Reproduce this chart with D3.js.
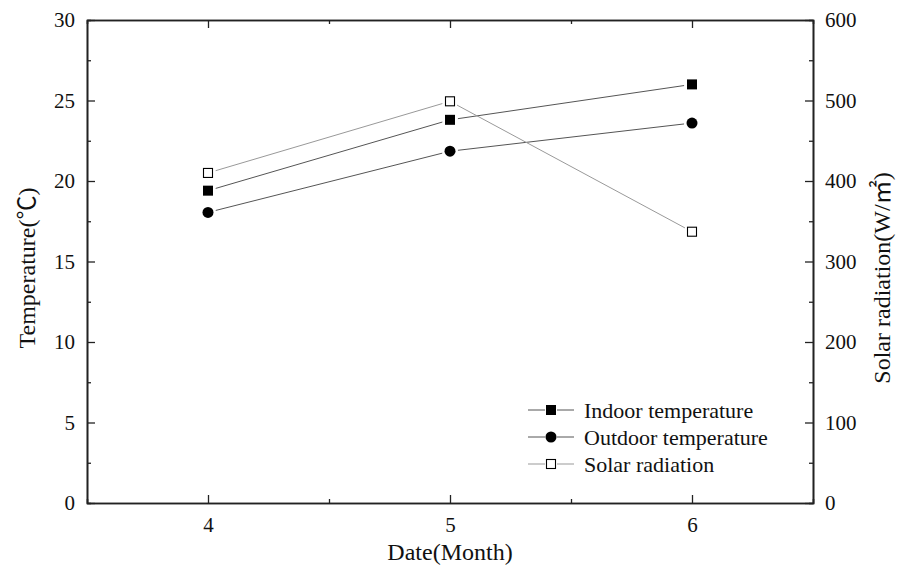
<!DOCTYPE html>
<html lang="en">
<head>
<meta charset="UTF-8">
<title>Temperature and solar radiation</title>
<style>
  body { margin: 0; background: #fff; }
  svg { font-family: "Liberation Serif", "Times New Roman", serif; }
  .axis path, .axis line { stroke: #222; }
  .cjk { font-family: "Noto Sans CJK SC", sans-serif; }
</style>
</head>
<body>
<svg width="898" height="573"></svg>
<script src="https://cdn.jsdelivr.net/npm/d3@7/dist/d3.min.js"></script>
<script>
const months = [4, 5, 6];
const indoorTemp = [19.4, 23.8, 26.0];
const outdoorTemp = [18.05, 21.85, 23.6];
const solarRadiation = [410, 499, 337];
const tempTicks = [0, 5, 10, 15, 20, 25, 30];
const solarTicks = [0, 100, 200, 300, 400, 500, 600];

const svg = d3.select('svg');
const margin = { left: 87, right: 85, top: 20, bottom: 70 };
const width = 898 - margin.left - margin.right;
const height = 573 - margin.top - margin.bottom;

const chart = svg.append('g')
    .attr('transform', `translate(${margin.left}, ${margin.top})`);

const xScale = d3.scaleLinear().domain([3.5, 6.5]).range([0, width]);
const yTemp = d3.scaleLinear().domain([0, 30]).range([height, 0]);
const ySolar = d3.scaleLinear().domain([0, 600]).range([height, 0]);

// minor ticks first
const minor = (axis, vals) => axis.tickValues(vals).tickSize(-4).tickFormat('');
chart.append('g').attr('class', 'axis').attr('transform', `translate(0, ${height})`)
    .call(minor(d3.axisBottom(xScale), [4.5, 5.5]));
chart.append('g').attr('class', 'axis')
    .call(minor(d3.axisTop(xScale), [4.5, 5.5]));
chart.append('g').attr('class', 'axis')
    .call(minor(d3.axisLeft(yTemp), d3.range(2.5, 30, 5)));
chart.append('g').attr('class', 'axis').attr('transform', `translate(${width}, 0)`)
    .call(minor(d3.axisRight(ySolar), d3.range(50, 600, 100)));

chart.append('g').attr('class', 'axis')
    .attr('transform', `translate(0, ${height})`)
    .call(d3.axisBottom(xScale).tickValues(months).tickSize(-8).tickSizeOuter(0).tickPadding(14).tickFormat(d3.format('d')));
chart.append('g').attr('class', 'axis')
    .call(d3.axisTop(xScale).tickValues(months).tickSize(-8).tickSizeOuter(0).tickFormat(''));
chart.append('g').attr('class', 'axis')
    .call(d3.axisLeft(yTemp).tickValues(tempTicks).tickSize(-8).tickSizeOuter(0).tickPadding(12));
chart.append('g').attr('class', 'axis').attr('transform', `translate(${width}, 0)`)
    .call(d3.axisRight(ySolar).tickValues(solarTicks).tickSize(-8).tickSizeOuter(0).tickPadding(12));

chart.selectAll('.axis').attr('font-family', null);
chart.selectAll('.axis text')
    .style('font-family', 'Liberation Serif')
    .style('font-size', '21px')
    .attr('fill', '#111');
chart.selectAll('.axis path').attr('stroke-width', 1.6);
chart.selectAll('.axis line').attr('stroke-width', 1.3);

const series = [
  { name: 'Indoor temperature', values: indoorTemp, y: yTemp, marker: 'square', line: '#555' },
  { name: 'Outdoor temperature', values: outdoorTemp, y: yTemp, marker: 'circle', line: '#555' },
  { name: 'Solar radiation', values: solarRadiation, y: ySolar, marker: 'open', line: '#999' }
];

function drawMarker(g, type, x, y) {
  if (type === 'circle') {
    g.append('circle').attr('cx', x).attr('cy', y).attr('r', 5.5).attr('fill', '#000');
  } else if (type === 'square') {
    g.append('rect').attr('x', x - 5).attr('y', y - 5).attr('width', 10).attr('height', 10).attr('fill', '#000');
  } else {
    g.append('rect').attr('x', x - 4.5).attr('y', y - 4.5).attr('width', 9).attr('height', 9)
      .attr('fill', '#fff').attr('stroke', '#000').attr('stroke-width', 1.1);
  }
}

const gap = 8;
series.forEach(s => {
  const pts = months.map((m, i) => [xScale(m), s.y(s.values[i])]);
  const g = chart.append('g');
  for (let i = 0; i < pts.length - 1; i++) {
    const [x1, y1] = pts[i], [x2, y2] = pts[i + 1];
    const len = Math.hypot(x2 - x1, y2 - y1);
    const ux = (x2 - x1) / len, uy = (y2 - y1) / len;
    g.append('line')
      .attr('x1', x1 + ux * gap).attr('y1', y1 + uy * gap)
      .attr('x2', x2 - ux * gap).attr('y2', y2 - uy * gap)
      .attr('stroke', s.line).attr('stroke-width', 1);
  }
  pts.forEach(p => drawMarker(g, s.marker, p[0], p[1]));
});

// legend
const legend = chart.append('g').attr('transform', `translate(${528 - margin.left}, ${410 - margin.top})`);
series.forEach((s, i) => {
  const row = legend.append('g').attr('transform', `translate(0, ${i * 27})`);
  row.append('line').attr('x1', 0).attr('x2', 17).attr('stroke', s.line).attr('stroke-width', 1);
  row.append('line').attr('x1', 29).attr('x2', 46).attr('stroke', s.line).attr('stroke-width', 1);
  drawMarker(row, s.marker, 23, 0);
  row.append('text').attr('x', 56).attr('y', 7.5)
    .attr('font-size', 22).attr('fill', '#111').text(s.name);
});

// axis titles
svg.append('text')
    .attr('x', margin.left + width / 2).attr('y', 560)
    .attr('text-anchor', 'middle').attr('font-size', 24).attr('fill', '#111')
    .text('Date(Month)');

const leftTitle = svg.append('text')
    .attr('transform', `translate(35, 268) rotate(-90)`)
    .attr('text-anchor', 'middle').attr('font-size', 24).attr('fill', '#111');
leftTitle.append('tspan').text('Temperature(');
leftTitle.append('tspan').attr('class', 'cjk').text('℃');
leftTitle.append('tspan').text(')');

const rightTitle = svg.append('text')
    .attr('transform', `translate(890, 278) rotate(-90)`)
    .attr('text-anchor', 'middle').attr('font-size', 24).attr('fill', '#111');
rightTitle.append('tspan').text('Solar radiation(W/');
rightTitle.append('tspan').attr('class', 'cjk').text('㎡');
rightTitle.append('tspan').text(')');
</script>
</body>
</html>
